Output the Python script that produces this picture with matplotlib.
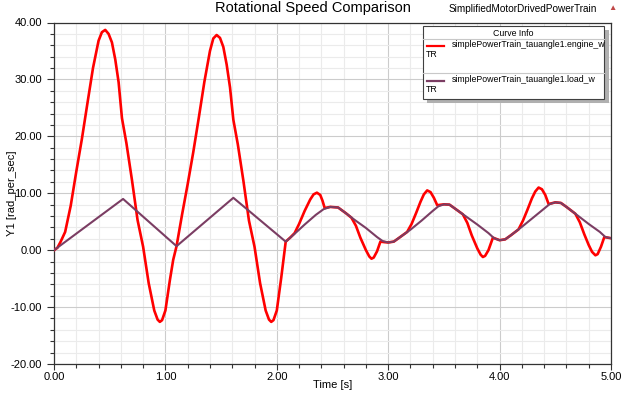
import numpy as np
import matplotlib.pyplot as plt
from matplotlib.patches import Rectangle
from matplotlib.lines import Line2D

plt.rcParams["font.family"] = ["Liberation Sans", "DejaVu Sans"]

# engine_w (red)
t_engine = [0, 0.03, 0.06, 0.1, 0.15, 0.2, 0.25, 0.3, 0.35, 0.4, 0.43, 0.46, 0.49, 0.52, 0.55, 0.58, 0.61,
            0.65, 0.7, 0.75, 0.8, 0.85, 0.9, 0.93, 0.95, 0.97, 1.0, 1.04, 1.07, 1.10,
            1.15, 1.2, 1.25, 1.3, 1.35, 1.4, 1.43, 1.46, 1.49, 1.52, 1.55, 1.58, 1.61,
            1.65, 1.7, 1.75, 1.8, 1.85, 1.9, 1.93, 1.95, 1.97, 2.0, 2.04, 2.08,
            2.12, 2.16, 2.2, 2.25, 2.3, 2.33, 2.36, 2.39, 2.41, 2.43, 2.48, 2.55, 2.62, 2.67,
            2.71, 2.75, 2.8, 2.83, 2.85, 2.87, 2.9, 2.93, 2.97, 3.0, 3.05, 3.1, 3.17,
            3.21, 3.25, 3.29, 3.32, 3.35, 3.38, 3.41, 3.44, 3.5, 3.55, 3.6, 3.67,
            3.71, 3.75, 3.8, 3.83, 3.85, 3.87, 3.9, 3.94, 4.0, 4.05, 4.1, 4.17,
            4.21, 4.25, 4.29, 4.32, 4.35, 4.38, 4.41, 4.44, 4.5, 4.55, 4.6, 4.68,
            4.72, 4.76, 4.8, 4.83, 4.86, 4.88, 4.91, 4.94, 5.0]
engine_w = [0, 0.4, 1.5, 3.2, 7.8, 13.8, 19.5, 25.8, 32.0, 36.8, 38.3, 38.7, 38.0, 36.5, 33.5, 29.5, 23.2,
            18.8, 12.3, 5.3, 0.6, -5.8, -10.6, -12.2, -12.6, -12.3, -10.6, -5.3, -1.7, 0.7,
            6.3, 11.6, 17.2, 23.3, 29.6, 35.0, 37.2, 37.8, 37.3, 35.7, 32.6, 28.6, 22.9,
            18.6, 12.2, 5.2, 0.6, -5.8, -10.6, -12.2, -12.6, -12.3, -10.6, -4.8, 1.5,
            2.2, 3.0, 4.6, 6.9, 8.9, 9.8, 10.1, 9.7, 8.7, 7.4, 7.6, 7.5, 6.5, 5.7,
            4.3, 2.2, 0.0, -1.1, -1.5, -1.3, -0.2, 1.5, 1.4, 1.35, 1.5, 2.2, 3.2,
            4.6, 6.5, 8.5, 9.8, 10.5, 10.2, 9.2, 7.9, 8.05, 8.0, 7.3, 6.3,
            4.8, 2.6, 0.3, -0.8, -1.2, -1.0, 0.0, 2.2, 1.75, 1.9, 2.6, 3.65,
            5.2, 7.1, 9.1, 10.3, 11.0, 10.7, 9.7, 8.1, 8.4, 8.3, 7.6, 6.4,
            4.9, 2.8, 0.9, -0.3, -0.9, -0.7, 0.6, 2.3, 2.1]

# load_w (purple)
t_load = [0, 0.62, 1.10, 1.61, 2.08, 2.15, 2.25, 2.35, 2.42, 2.48, 2.55, 2.62, 2.7, 2.8, 2.9, 2.95,
          3.0, 3.05, 3.1, 3.2, 3.3, 3.4, 3.45, 3.5, 3.55, 3.6, 3.7, 3.8, 3.9, 3.95,
          4.0, 4.05, 4.1, 4.2, 4.3, 4.4, 4.45, 4.5, 4.55, 4.6, 4.7, 4.8, 4.9, 4.95, 5.0]
load_w = [0, 9.0, 0.7, 9.2, 1.5, 2.7, 4.5, 6.2, 7.2, 7.6, 7.5, 6.5, 5.3, 3.9, 2.3, 1.6,
          1.35, 1.5, 2.2, 3.6, 5.2, 6.9, 7.7, 8.05, 8.0, 7.3, 5.9, 4.5, 3.0, 2.1,
          1.75, 1.9, 2.6, 4.1, 5.7, 7.3, 8.1, 8.4, 8.3, 7.6, 6.1, 4.6, 3.2, 2.3, 2.1]

names = ["simplePowerTrain_tauangle1.engine_w", "simplePowerTrain_tauangle1.load_w"]
colors = ["#ff0000", "#7b3d63"]

fig = plt.figure(figsize=(6.24, 3.95), dpi=100)
ax = fig.add_axes([54/624, 1-364/395, 557/624, 341.5/395])

ax.plot(t_engine, engine_w, color=colors[0], lw=1.9, zorder=3)
ax.plot(t_load, load_w, color=colors[1], lw=1.5, zorder=4)

ax.set_xlim(0, 5)
ax.set_ylim(-20, 40)
ax.set_xticks(np.arange(0, 5.01, 1))
ax.set_xticks(np.arange(0, 5.01, 0.2), minor=True)
ax.set_yticks(np.arange(-20, 40.1, 10))
ax.set_yticks(np.arange(-20, 40.1, 2), minor=True)
ax.set_xticklabels(["%.2f" % v for v in np.arange(0, 5.01, 1)])
ax.set_yticklabels(["%.2f" % v for v in np.arange(-20, 40.1, 10)])
ax.tick_params(which="major", direction="out", length=5, width=0.8, labelsize=8, color="#333333")
ax.tick_params(axis="x", which="major", length=4, pad=2)
ax.tick_params(which="minor", direction="out", length=3, width=0.8, color="#333333")
ax.grid(which="major", color="#cccccc", lw=0.8)
ax.grid(which="minor", color="#ebebeb", lw=0.8)
ax.set_axisbelow(True)
for s in ax.spines.values():
    s.set_color("#333333")
    s.set_linewidth(0.9)

ax.set_xlabel("Time [s]", fontsize=8)
ax.xaxis.set_label_coords(0.5, -0.048)
ax.set_ylabel("Y1 [rad_per_sec]", fontsize=8)
ax.yaxis.set_label_coords(-0.066, 0.5)

fig.text(313/624, 0.98, "Rotational Speed Comparison", ha="center", va="center", fontsize=10.5)
fig.text(523/624, 0.978, "SimplifiedMotorDrivedPowerTrain", ha="center", va="center", fontsize=7.2)
fig.text(612/624, 0.978, "\u25b2", ha="center", va="center", fontsize=6, color="#c04848")

# legend box "Curve Info"
L, R, T, B = 0.662, 0.988, 0.989, 0.775
tr = ax.transAxes
ax.add_patch(Rectangle((L + 0.008, B - 0.012), R - L, T - B, transform=tr,
                       facecolor="#b0b0b0", edgecolor="none", zorder=9, clip_on=False))
ax.add_patch(Rectangle((L, B), R - L, T - B, transform=tr,
                       facecolor="white", edgecolor="#404040", lw=0.8, zorder=10, clip_on=False))
ax.text((L + R) / 2, 0.968, "Curve Info", transform=tr, ha="center", va="center", fontsize=6.3, zorder=11)
ax.add_line(Line2D([L, R], [0.952, 0.952], transform=tr, color="#c8c8c8", lw=0.8, zorder=11))
ax.add_line(Line2D([L, R], [0.852, 0.852], transform=tr, color="#c8c8c8", lw=0.8, zorder=11))
rows = [(0.932, 0.905), (0.830, 0.803)]
for (y1, y2), nm, c in zip(rows, names, colors):
    ax.add_line(Line2D([0.669, 0.700], [y1, y1], transform=tr, color=c, lw=1.6, zorder=11))
    ax.text(0.714, y1 + 0.003, nm, transform=tr, ha="left", va="center", fontsize=6.3, zorder=11)
    ax.text(0.667, y2, "TR", transform=tr, ha="left", va="center", fontsize=6.3, zorder=11)

fig.savefig("out.png", dpi=100)
